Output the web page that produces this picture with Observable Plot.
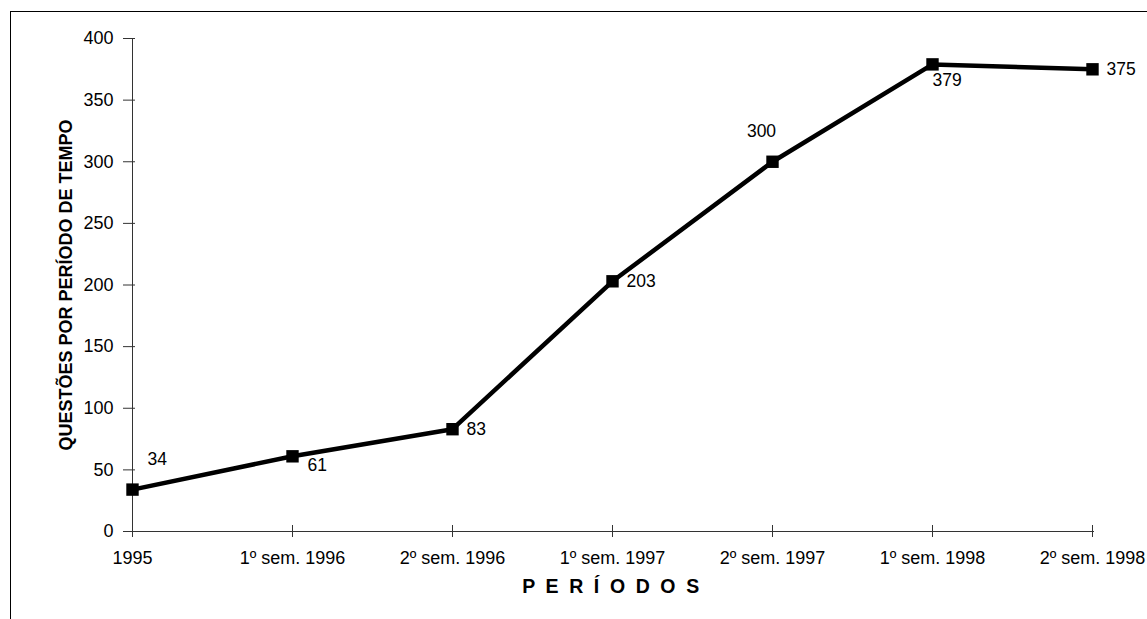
<!DOCTYPE html>
<html>
<head>
<meta charset="utf-8">
<script src="https://cdn.jsdelivr.net/npm/d3@7"></script>
<script src="https://cdn.jsdelivr.net/npm/@observablehq/plot@0.6"></script>
<style>
  html, body { margin: 0; padding: 0; background: #fff; overflow: hidden; }
  #chart { position: relative; width: 1147px; height: 619px; }
  #chart svg { position: absolute; left: 0; top: 0; }
  #border {
    position: absolute; left: 10px; top: 11px; width: 1300px; height: 800px;
    border-left: 1px solid #000; border-top: 1px solid #000; pointer-events: none;
  }
</style>
</head>
<body>
<div id="chart"><div id="border"></div></div>
<script>
// Questions per time period
const periods = ["1995", "1º sem. 1996", "2º sem. 1996", "1º sem. 1997", "2º sem. 1997", "1º sem. 1998", "2º sem. 1998"];
const questions = [34, 61, 83, 203, 300, 379, 375];
const yTicks = [0, 50, 100, 150, 200, 250, 300, 350, 400];
const xTitle = "P E R Í O D O S";
const yTitle = "QUESTÕES POR PERÍODO DE TEMPO";

const rows = periods.map((period, i) => ({period, value: questions[i]}));

// where each value label sits relative to its marker
const labelGroups = [
  {idx: [0], textAnchor: "start", dx: 15, dy: -30},
  {idx: [1], textAnchor: "start", dx: 15, dy: 9},
  {idx: [2, 3, 6], textAnchor: "start", dx: 14, dy: 0},
  {idx: [4], textAnchor: "middle", dx: -11, dy: -30},
  {idx: [5], textAnchor: "start", dx: 0, dy: 16}
];

const font = "'Liberation Sans', Arial, sans-serif";

const svg = Plot.plot({
  width: 1147,
  height: 619,
  marginLeft: 129,
  marginRight: 53,
  marginTop: 38,
  marginBottom: 88,
  style: {fontFamily: font, fontSize: "18px", color: "#000", background: "transparent"},
  x: {type: "point", domain: periods, padding: 0},
  y: {domain: [0, 400]},
  marks: [
    Plot.ruleY([0], {stroke: "#333", strokeWidth: 1}),
    Plot.ruleX([periods[0]], {stroke: "#333", strokeWidth: 1}),
    Plot.axisX({tickSize: 12, dy: -6, tickPadding: 14, label: null, stroke: "#333", fontSize: 18}),
    Plot.axisY({ticks: yTicks, tickSize: 12, dx: 6, tickPadding: 10, label: null, stroke: "#333", fontSize: 18}),
    Plot.line(rows, {x: "period", y: "value", stroke: "#000", strokeWidth: 4.5, strokeLinejoin: "miter"}),
    Plot.dot(rows, {x: "period", y: "value", symbol: "square", r: 7, fill: "#000", stroke: null}),
    ...labelGroups.map(g => Plot.text(rows, {
      filter: (d, i) => g.idx.includes(periods.indexOf(d.period)),
      x: "period", y: "value", text: d => String(d.value),
      textAnchor: g.textAnchor, dx: g.dx, dy: g.dy, fontSize: 17.5, fill: "#000"
    })),
    Plot.text([xTitle], {frameAnchor: "bottom", textAnchor: "middle", dy: 61, fontWeight: "bold", fontSize: 19.5, fill: "#000"}),
    Plot.text([yTitle], {frameAnchor: "left", textAnchor: "middle", dx: -63, rotate: -90, fontWeight: "bold", fontSize: 18, fill: "#000"})
  ]
});

// spaced-out lettering for the period axis title
d3.select(svg).selectAll("text")
  .filter(function () { return this.textContent === xTitle; })
  .style("letter-spacing", "2.6px");
document.getElementById("chart").appendChild(svg);
</script>
</body>
</html>
